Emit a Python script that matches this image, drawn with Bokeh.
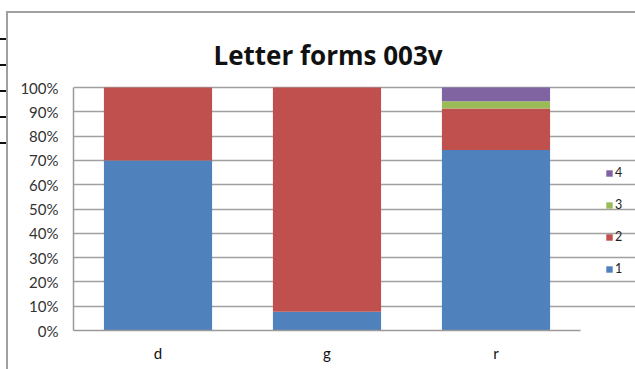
from bokeh.plotting import figure
from bokeh.models import (Range1d, Legend, LegendItem, Label,
                          PrintfTickFormatter, FixedTicker, InlineStyleSheet)
from bokeh.embed import file_html
from bokeh.resources import INLINE

# Share of each letter form per letter (percent)
letters = ["d", "g", "r"]
form_1 = [70.0, 7.7, 74.3]
form_2 = [30.0, 92.3, 17.1]
form_3 = [0.0, 0.0, 2.9]
form_4 = [0.0, 0.0, 5.7]
form_names = ["1", "2", "3", "4"]
colors = ["#4F81BD", "#C0504D", "#9BBB59", "#8064A2"]
y_ticks = [0, 10, 20, 30, 40, 50, 60, 70, 80, 90, 100]
title_text = "Letter forms 003v"

FONT = "Lato"

# category slots sit at 0.5, 1.5, 2.5 on a numeric x scale
x_pos = [i + 0.5 for i in range(len(letters))]
n_cat = len(letters)

# chart-area border and the stray tick marks at the page edge, painted
# behind the (transparent) canvas border
edge_css = """
:host {
  background-color: white;
  background-image:
    linear-gradient(#a0a0a0, #a0a0a0),
    linear-gradient(#a0a0a0, #a0a0a0),
    linear-gradient(#111, #111),
    linear-gradient(#111, #111),
    linear-gradient(#111, #111),
    linear-gradient(#111, #111),
    linear-gradient(#111, #111);
  background-size: 2px 100%, 100% 2px, 6px 2px, 6px 2px, 6px 2px, 6px 2px, 6px 2px;
  background-position: 6px 11px, 6px 11px, 0 38px, 0 64px, 0 90px, 0 116px, 0 142px;
  background-repeat: no-repeat;
}
"""

# plot frame: left 73 px, bottom 330 px; 0..100 % spans 243 px, one
# category slot is 169 px; the frame reaches up and right far enough to
# hold the title and the legend
px_per_pct = 243 / 100
px_per_cat = 169
y_top = 100 + (87 - 20) / px_per_pct
x_right = n_cat + (635 - 580) / px_per_cat

p = figure(width=635, height=369, output_backend="svg", toolbar_location=None,
           x_range=Range1d(0, x_right), y_range=Range1d(0, y_top),
           min_border_left=73, min_border_right=0,
           min_border_top=20, min_border_bottom=39,
           stylesheets=[InlineStyleSheet(css=edge_css)])
p.outline_line_color = None
p.background_fill_color = "white"
p.border_fill_alpha = 0

data = dict(x=x_pos, f1=form_1, f2=form_2, f3=form_3, f4=form_4)
keys = ["f1", "f2", "f3", "f4"]
renderers = p.vbar_stack(keys, x="x", width=0.64, color=colors,
                         line_color=None, source=data)

# axes
p.yaxis.ticker = FixedTicker(ticks=y_ticks)
p.yaxis.bounds = (0, 100)
p.yaxis.formatter = PrintfTickFormatter(format="%d%%")
p.yaxis.major_tick_out = 0
p.yaxis.major_tick_in = 0
p.yaxis.minor_tick_line_color = None
p.yaxis.axis_line_color = "#9a9a9a"
p.yaxis.axis_line_width = 1.5
p.yaxis.major_label_standoff = 15
p.yaxis.major_label_text_font = FONT
p.yaxis.major_label_text_font_size = "15px"
p.yaxis.major_label_text_color = "#333333"

p.xaxis.ticker = FixedTicker(ticks=x_pos)
p.xaxis.major_label_overrides = {x: lab for x, lab in zip(x_pos, letters)}
p.xaxis.bounds = (0, n_cat)
p.xaxis.major_tick_out = 0
p.xaxis.major_tick_in = 0
p.xaxis.minor_tick_line_color = None
p.xaxis.axis_line_color = "#9a9a9a"
p.xaxis.axis_line_width = 1.5
p.xaxis.major_label_standoff = 13
p.xaxis.major_label_text_font = FONT
p.xaxis.major_label_text_font_size = "15px"
p.xaxis.major_label_text_color = "#111111"

p.xgrid.grid_line_color = None
p.ygrid.ticker = FixedTicker(ticks=y_ticks)
p.ygrid.bounds = (0, n_cat)
p.ygrid.grid_line_color = "#a0a0a0"
p.ygrid.grid_line_width = 1.5

# chart title
p.add_layout(Label(x=254.5, y=275.5, x_units="screen", y_units="screen",
                   text=title_text, text_align="center",
                   text_baseline="alphabetic", text_font="Open Sans",
                   text_font_style="bold", text_font_size="26px",
                   text_color="#111111"))

# legend, top to bottom: 4, 3, 2, 1
items = [LegendItem(label=form_names[i], renderers=[renderers[i]]) for i in (3, 2, 1, 0)]
legend = Legend(items=items, location=(532, 54), orientation="vertical",
                glyph_width=8, glyph_height=8, label_height=8,
                label_standoff=2, spacing=17, padding=0, margin=0,
                border_line_color=None, background_fill_alpha=0,
                label_text_font=FONT, label_text_font_size="12.5px",
                label_text_color="#222222", label_text_baseline="middle")
p.add_layout(legend)

open("out.html", "w").write(file_html(p, INLINE))
